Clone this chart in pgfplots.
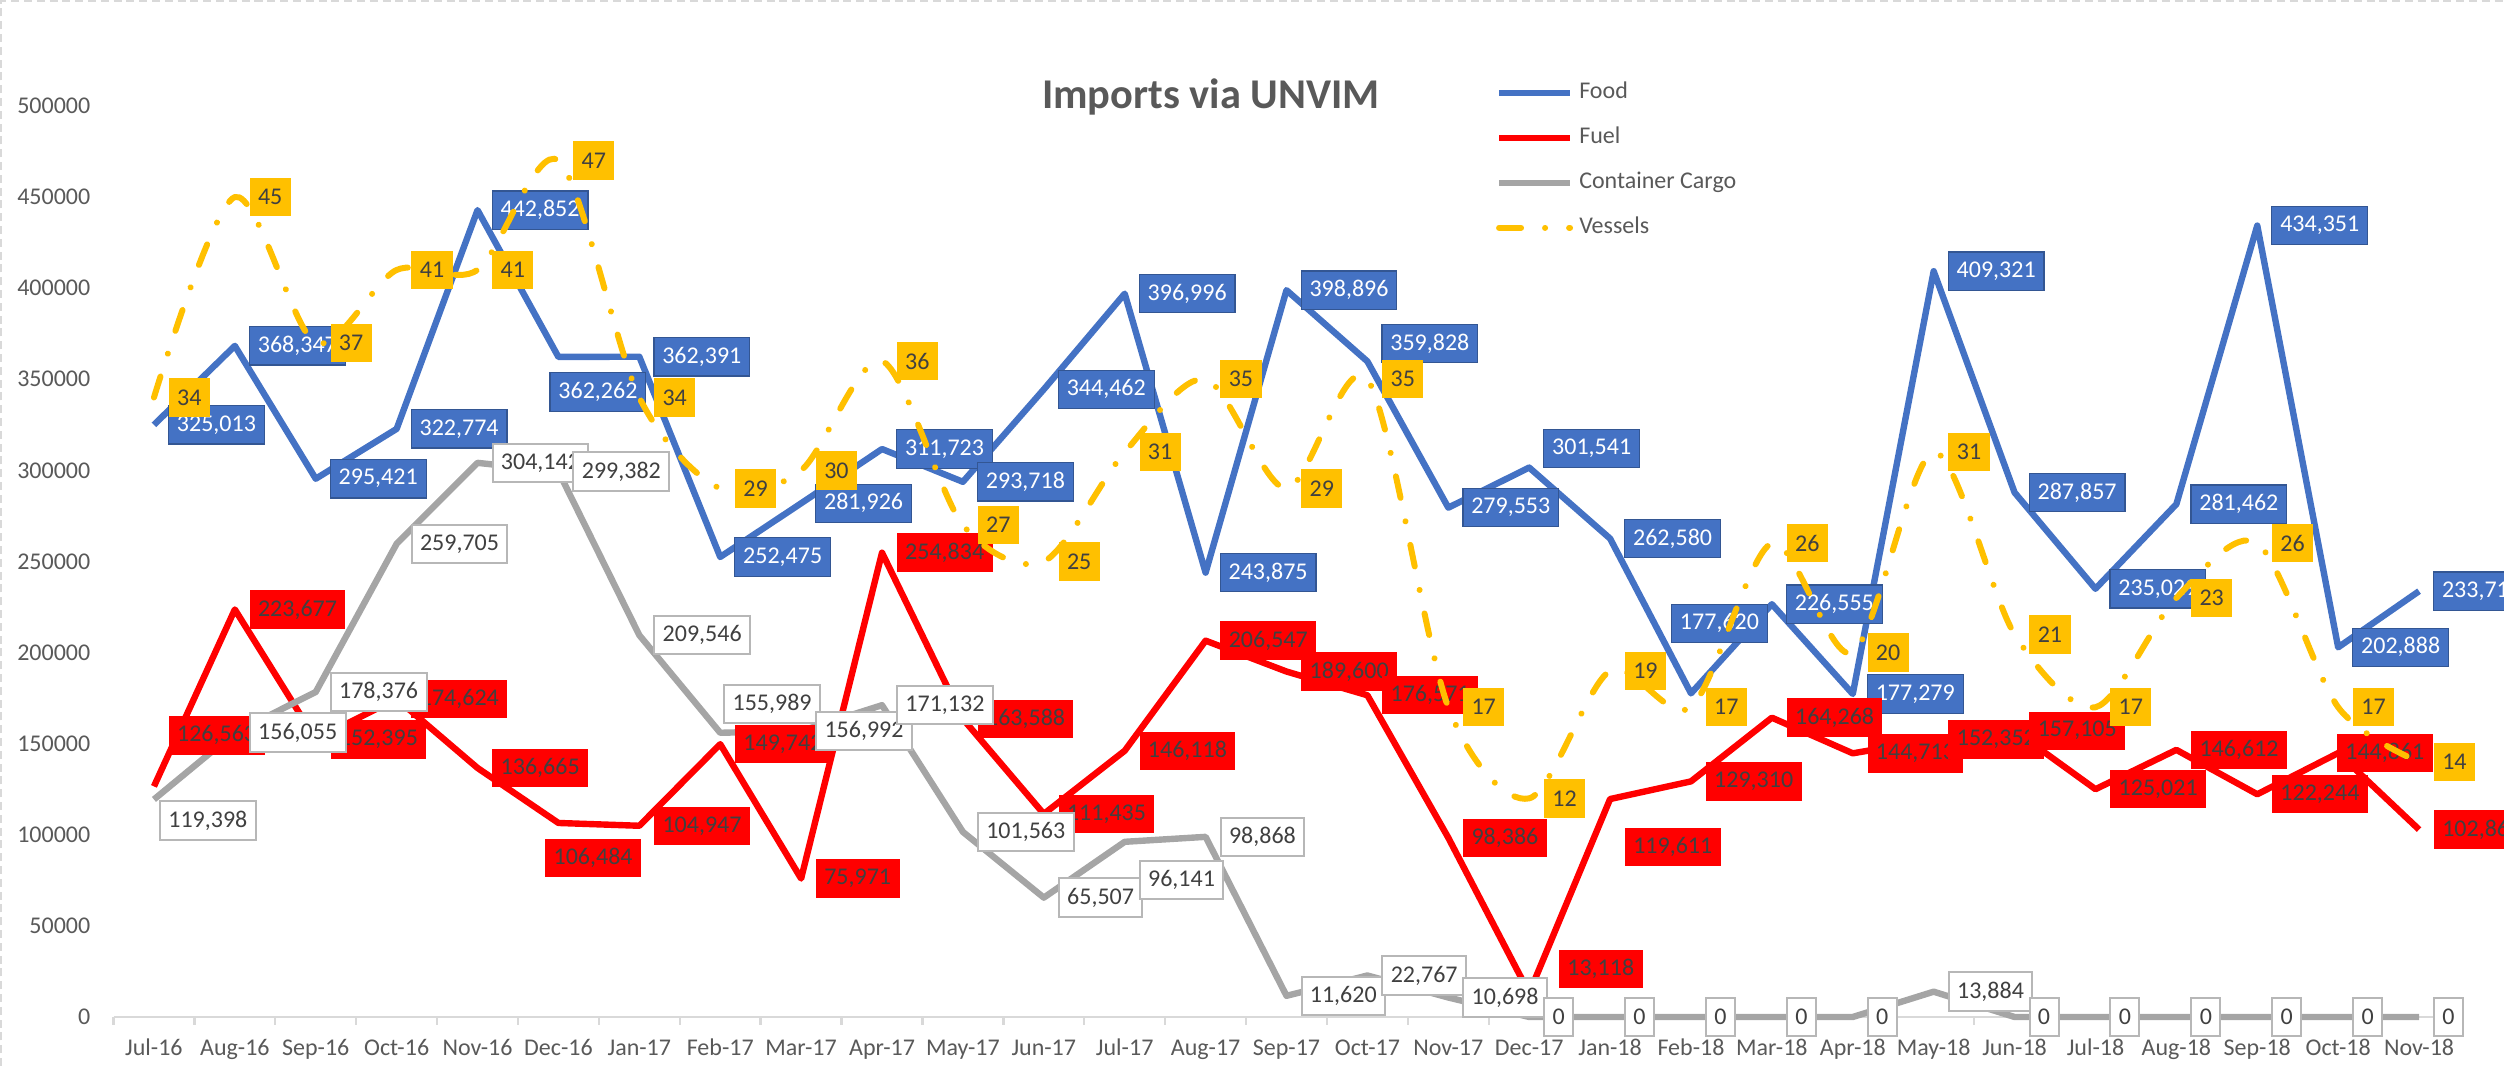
\documentclass[border=0pt]{standalone}
\usepackage{pgfplots}
\pgfplotsset{compat=1.18}
\usepackage{pgfplotstable}
\usepackage{fontspec}
\setmainfont{Carlito}

\definecolor{foodblue}{HTML}{4472C4}
\definecolor{fuelred}{HTML}{FF0000}
\definecolor{cargogrey}{HTML}{A5A5A5}
\definecolor{vesselgold}{HTML}{FFC000}
\definecolor{txtgrey}{HTML}{595959}
\definecolor{lblgrey}{HTML}{404040}
\definecolor{axisgrey}{HTML}{D9D9D9}

\newcommand{\tickfont}{\fontsize{6}{7}\selectfont}
\newcommand{\lblfont}{\fontsize{6}{7}\selectfont}
\newcommand{\numlbl}{\pgfmathprintnumber[assume math mode=true, fixed, precision=0, 1000 sep={,}]{\pgfplotspointmeta}}

% x = month index (Jul-16 = 0), dx/up = label nudges in px
\pgfplotstableread{
x y dx up
0 325013 0 0
1 368347 0 0
2 295421 0 0
3 322774 0 0
4 442852 0 0
5 362262 -23 -35
6 362391 0 0
7 252475 0 0
8 281926 0 0
9 311723 0 0
10 293718 0 0
11 344462 0 0
12 396996 0 0
13 243875 0 0
14 398896 0 0
15 359828 0 18
16 279553 0 0
17 301541 0 19
18 262580 0 0
19 177620 -34 70
20 226555 0 0
21 177279 0 0
22 409321 0 0
23 287857 0 0
24 235029 0 0
25 281462 0 0
26 434351 0 0
27 202888 0 0
28 233710 0 0
}\food

\pgfplotstableread{
x y dx up
0 126563 0 51
1 223677 0 0
2 152395 0 0
3 174624 0 0
4 136665 0 0
5 106484 -28 -35
6 104947 0 0
7 149742 0 0
8 75971 0 0
9 254834 0 0
10 163588 0 0
11 111435 0 0
12 146118 0 0
13 206547 0 0
14 189600 0 0
15 176571 0 0
16 98386 0 0
17 13118 15 24
18 119611 0 -48
19 129310 0 0
20 164268 0 0
21 144713 0 0
22 152352 0 0
23 157105 0 0
24 125021 0 0
25 146612 0 0
26 122244 0 0
27 144861 -16 0
28 102860 0 0
}\fuel

\pgfplotstableread{
x y dx up
0 119398 -9 -21
1 156055 0 0
2 178376 0 0
3 259705 0 0
4 304142 0 0
5 299382 0 0
6 209546 0 0
7 155989 -11 29
8 156992 0 0
9 171132 0 0
10 101563 0 0
11 65507 0 0
12 96141 0 -38
13 98868 0 0
14 11620 0 0
15 22767 0 0
16 10698 0 0
17 0 0 0
18 0 0 0
19 0 0 0
20 0 0 0
21 0 0 0
22 13884 0 0
23 0 0 0
24 0 0 0
25 0 0 0
26 0 0 0
27 0 0 0
28 0 0 0
}\cargo

\pgfplotstableread{
x y dx up
0 34 0 0
1 45 0 0
2 37 0 0
3 41 0 0
4 41 0 0
5 47 0 0
6 34 0 0
7 29 0 0
8 30 0 0
9 36 0 0
10 27 0 0
11 25 0 0
12 31 0 0
13 35 0 0
14 29 0 0
15 35 0 0
16 17 0 0
17 12 0 0
18 19 0 0
19 17 0 0
20 26 0 0
21 20 0 0
22 31 0 0
23 21 0 0
24 17 0 0
25 23 0 0
26 26 0 0
27 17 0 0
28 14 0 0
}\vessels

\pgfplotsset{
  base/.style={
    width=586.5pt, height=227.75pt, scale only axis,
    at={(0pt,0pt)}, anchor=south west,
    xmin=-0.5, xmax=28.5, clip=false, set layers,
  },
  serieslbl/.style={
    draw=none, mark=none, forget plot, on layer=axis foreground,
    nodes near coords={\numlbl}, point meta=explicit,
    visualization depends on={\thisrow{dx} \as \ldx},
    visualization depends on={\thisrow{up} \as \lup},
    nodes near coords style={anchor=west, xshift={3.5pt+0.25pt*(\ldx)},
      yshift={0.25pt*(\lup)}, font=\lblfont, inner xsep=2.1pt, inner ysep=0pt,
      minimum height=9.6pt, #1},
  },
  vesselline/.style={vesselgold, line width=1.5pt, line cap=round,
    dash pattern=on 5.5pt off 6pt on 0.01pt off 6pt},
}

\begin{document}
\begin{tikzpicture}
\begin{axis}[
  base,
  ymin=0, ymax=500000,
  ytick={0,50000,...,500000},
  scaled y ticks=false,
  yticklabel={\pgfmathprintnumber[assume math mode=true, fixed, precision=0, 1000 sep={}]{\tick}},
  yticklabel style={anchor=east, inner sep=0pt,
    xshift=-5.6pt, font=\tickfont, text=txtgrey},
  ytick style={draw=none},
  xtick={0,...,28},
  xticklabels={Jul-16,Aug-16,Sep-16,Oct-16,Nov-16,Dec-16,Jan-17,Feb-17,Mar-17,Apr-17,May-17,Jun-17,Jul-17,Aug-17,Sep-17,Oct-17,Nov-17,Dec-17,Jan-18,Feb-18,Mar-18,Apr-18,May-18,Jun-18,Jul-18,Aug-18,Sep-18,Oct-18,Nov-18},
  xticklabel style={anchor=base, inner sep=0pt, yshift=-9.75pt, font=\tickfont, text=txtgrey},
  major x tick style={draw=none},
  extra x ticks={-0.5,0.5,...,28.5},
  extra x tick labels={},
  extra x tick style={major tick length=2pt, tick align=outside,
    major x tick style={draw=axisgrey, line width=0.6pt}},
  axis x line*=bottom, axis y line*=left,
  axis line style={-},
  x axis line style={draw=axisgrey, line width=0.7pt},
  y axis line style={draw=none},
  title={\textbf{Imports via UNVIM}},
  every axis title shift=0pt,
  title style={at={(0.4678,1.0099)}, anchor=center, yshift=0pt, inner sep=0pt,
    font=\fontsize{10.6}{12}\selectfont, text=txtgrey},
  legend cell align=left,
  legend image code/.code={\draw[#1] (0pt,0pt) -- (17.75pt,0pt);},
  legend style={at={(0.5889,1.0401)}, anchor=north west, draw=none, fill=none,
    inner sep=0pt, row sep=0pt, column sep=1.5pt,
    nodes={inner sep=0pt, minimum height=11.25pt, font=\tickfont, text=txtgrey}},
]
  \addplot[foodblue, line width=1.6pt, line join=round, mark=none] table[x=x, y=y] {\food};
  \addlegendentry{Food}
  \addplot[fuelred, line width=1.6pt, line join=round, mark=none] table[x=x, y=y] {\fuel};
  \addlegendentry{Fuel}
  \addplot[cargogrey, line width=1.6pt, line join=round, mark=none] table[x=x, y=y] {\cargo};
  \addlegendentry{Container Cargo}
  \addlegendimage{vesselline}
  \addlegendentry{Vessels}

  % data labels, kept above every line
  \addplot[serieslbl={fill=foodblue, draw=foodblue!75!black, line width=0.3pt, text=white}]
    table[x=x, y=y, meta=y] {\food};
  \addplot[serieslbl={fill=fuelred, text=lblgrey}]
    table[x=x, y=y, meta=y] {\fuel};
  \addplot[serieslbl={fill=white, draw=cargogrey!80, line width=0.5pt, text=lblgrey}]
    table[x=x, y=y, meta=y] {\cargo};
\end{axis}

\begin{axis}[
  base,
  ymin=0, ymax=50,
  hide axis,
]
  \addplot[vesselline, smooth, mark=none] table[x=x, y=y] {\vessels};
  \addplot[serieslbl={fill=vesselgold, text=lblgrey}]
    table[x=x, y=y, meta=y] {\vessels};
\end{axis}

\draw[axisgrey, line width=0.5pt, dash pattern=on 2pt off 1.2pt]
  (-28.1pt,-12.25pt) -- (-28.1pt,254pt) -- (597.625pt,254pt);
\pgfresetboundingbox
\path[use as bounding box] (-28.375pt,-12.25pt) rectangle (597.625pt,254.25pt);
\end{tikzpicture}
\end{document}
